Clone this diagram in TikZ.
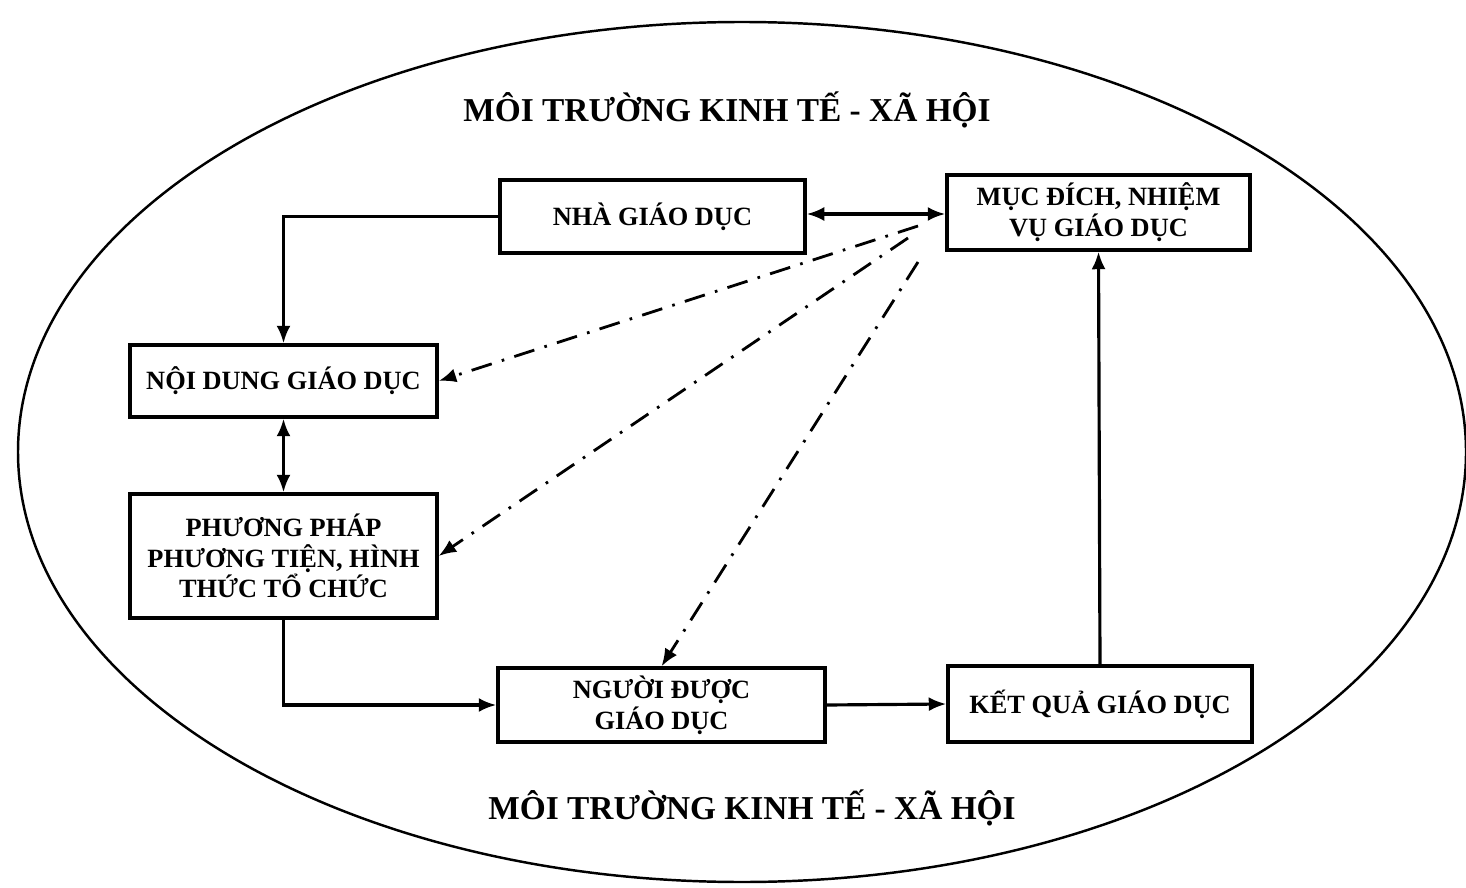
\documentclass[tikz,border=0pt]{standalone}
\usepackage{fontspec}
\setmainfont{Liberation Serif}
\usetikzlibrary{arrows.meta}
\begin{document}
\begin{tikzpicture}[x=0.02cm,y=-0.02cm,
  box/.style={draw,line width=1.9pt,minimum width=#1,inner sep=0pt,align=center,font=\bfseries\fontsize{15}{17.5}\selectfont},
  conn/.style={line width=1.8pt,-{Latex[length=10pt,width=8pt]}},
  dd/.style={line width=1.6pt,dash pattern=on 12pt off 6pt on 1.5pt off 6pt,-{Latex[length=10pt,width=8pt]}},
  title/.style={font=\bfseries\fontsize{19}{22}\selectfont}]
\useasboundingbox (0,0) rectangle (1466,888);
\draw[line width=1.4pt] (742,452) ellipse [x radius=724, y radius=430];
\node[title] (t1) at (727,110) {MÔI TRƯỜNG KINH TẾ - XÃ HỘI};
\node[title] (t2) at (752,808) {MÔI TRƯỜNG KINH TẾ - XÃ HỘI};
\node[box, minimum width=305*0.02cm, minimum height=73*0.02cm] (nha) at (652.5,216.5) {NHÀ GIÁO DỤC};
\node[box, minimum width=303*0.02cm, minimum height=75*0.02cm] (muc) at (1098.5,212.5) {MỤC ĐÍCH, NHIỆM\\VỤ GIÁO DỤC};
\node[box, minimum width=307*0.02cm, minimum height=72*0.02cm] (noi) at (283.5,381) {NỘI DUNG GIÁO DỤC};
\node[box, minimum width=307*0.02cm, minimum height=124*0.02cm] (pp) at (283.5,556) {PHƯƠNG PHÁP\\PHƯƠNG TIỆN, HÌNH\\THỨC TỔ CHỨC};
\node[box, minimum width=327*0.02cm, minimum height=74*0.02cm] (ng) at (661.5,705) {NGƯỜI ĐƯỢC\\GIÁO DỤC};
\node[box, minimum width=304*0.02cm, minimum height=76*0.02cm] (kq) at (1100,704) {KẾT QUẢ GIÁO DỤC};
\coordinate (o1) at (918,226);
\coordinate (o2) at (908,238);
\coordinate (o3) at (918,262);
\draw[line width=1.8pt,{Latex[length=10pt,width=8pt]}-{Latex[length=10pt,width=8pt]}] (nha.east |- 0,214) -- (muc.west |- 0,214);
\draw[conn] (nha.west) -| (noi.north);
\draw[line width=1.8pt,{Latex[length=10pt,width=8pt]}-{Latex[length=10pt,width=8pt]}] (noi.south) -- (pp.north);
\draw[conn] (pp.south) |- (ng.west);
\draw[conn] (ng.east) -- (kq.west);
\draw[conn] (kq.north) -- (muc.south);
\draw[dd] (o1) -- (noi.east);
\draw[dd] (o2) -- (pp.east);
\draw[dd] (o3) -- (ng.north);
\end{tikzpicture}
\end{document}
